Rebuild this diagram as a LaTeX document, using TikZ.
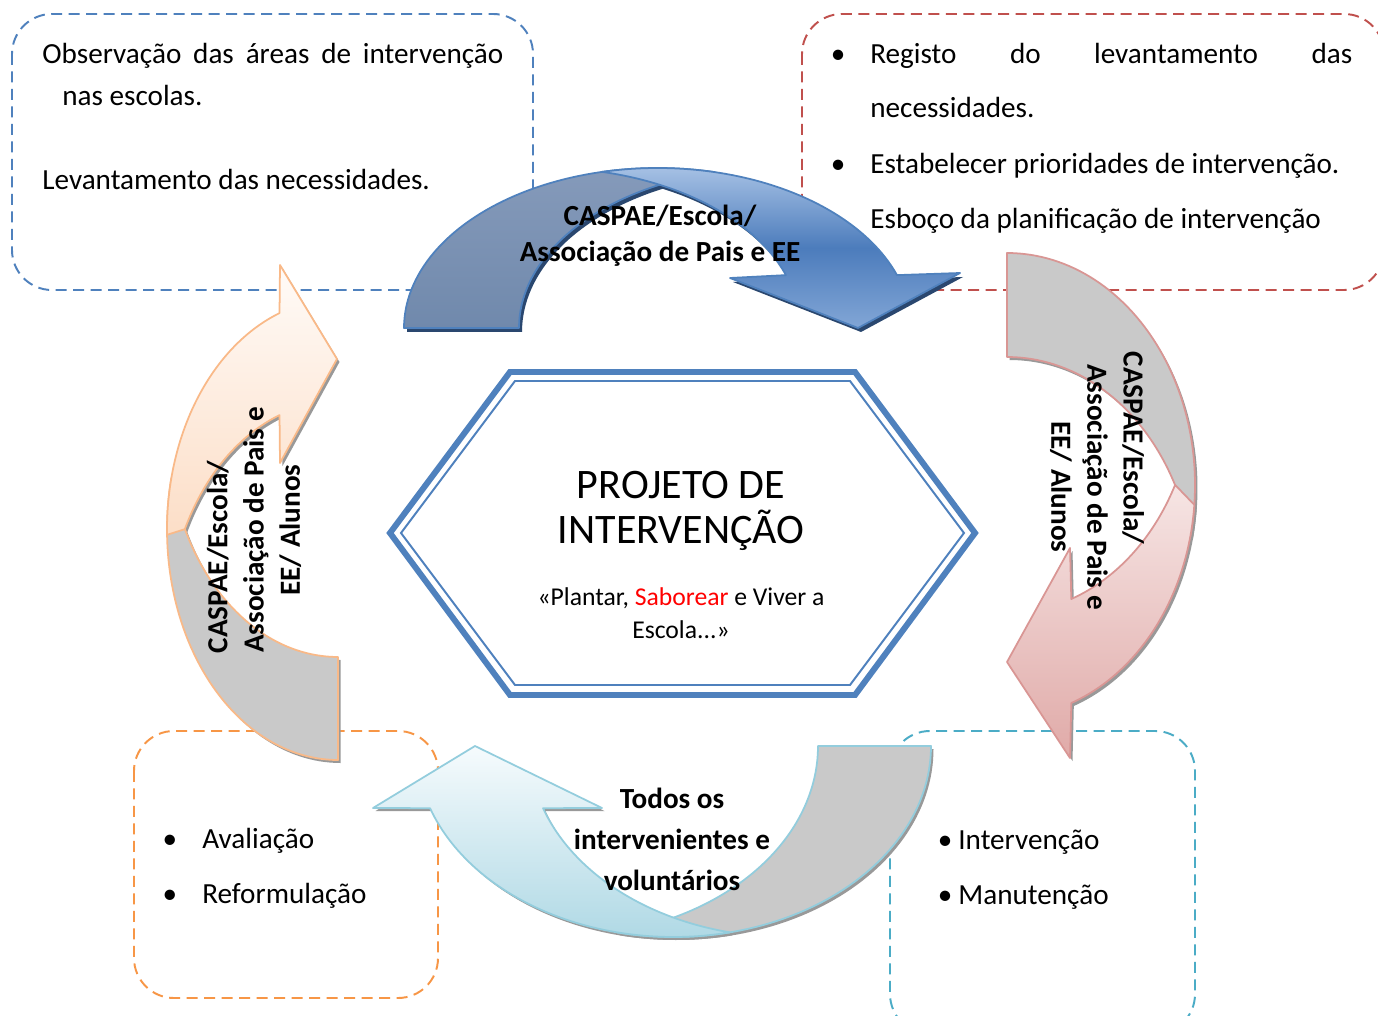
\documentclass[tikz,border=0pt]{standalone}
\usepackage{fontspec}
\setmainfont{Carlito}
\definecolor{bluebox}{HTML}{4F81BD}
\definecolor{redbox}{HTML}{C0504D}
\definecolor{orangebox}{HTML}{F79646}
\definecolor{tealbox}{HTML}{4BACC6}
\definecolor{grayfill}{HTML}{C9C9C9}
\definecolor{pinkedge}{HTML}{D99694}
\definecolor{peachedge}{HTML}{F9B988}
\definecolor{aquaedge}{HTML}{93CDDD}
\definecolor{navyshadow}{HTML}{2A476F}
\definecolor{hexblue}{HTML}{4F81BD}

% top arrow: one outer ellipse, two inner ellipses
\newcommand{\pathTB}{plot[domain=180:76.9,samples=60] ({657.6+253.6*cos(\x)},{328-160*sin(\x)}) -- plot[domain=103.1:180,samples=60] ({772.6+253.6*cos(\x)},{328-160*sin(\x)}) -- cycle}
\newcommand{\pathTF}{plot[domain=102.6:19.3,samples=60] ({657.6+253.6*cos(\x)},{328-160*sin(\x)}) -- (960,273) -- (858,328) -- (730,278) -- plot[domain=19.3:77.4,samples=60] ({546.6+253.6*cos(\x)},{328-160*sin(\x)}) -- cycle}
% right arrow
\newcommand{\pathRB}{plot[domain=-90:12.95,samples=60] ({1007+188*cos(\x)},{485+232*sin(\x)}) -- plot[domain=-12.95:-90,samples=60] ({1007+188*cos(\x)},{589+232*sin(\x)}) -- cycle}
\newcommand{\pathRF}{plot[domain=4.9:70,samples=60] ({1007+188*cos(\x)},{485+232*sin(\x)}) -- (1070,758) -- (1007,662) -- (1070,548) -- plot[domain=70:26.6,samples=60] ({1007+188*cos(\x)},{381+232*sin(\x)}) -- cycle}
% left arrow
\newcommand{\pathLB}{plot[domain=90:192.9,samples=60] ({338+171*cos(\x)},{529.6+230.4*sin(\x)}) -- plot[domain=167.1:90,samples=60] ({338+171*cos(\x)},{426.6+230.4*sin(\x)}) -- cycle}
\newcommand{\pathLF}{plot[domain=178.7:250,samples=60] ({338+171*cos(\x)},{529.6+230.4*sin(\x)}) -- (280,265) -- (337,359) -- (280,463) -- plot[domain=250:206.4,samples=60] ({338+171*cos(\x)},{631.6+230.4*sin(\x)}) -- cycle}
% bottom arrow
\newcommand{\pathBB}{plot[domain=0:102.7,samples=60] ({673.5+257.5*cos(\x)},{746+191*sin(\x)}) -- plot[domain=77.3:0,samples=60] ({560.5+257.5*cos(\x)},{746+191*sin(\x)}) -- cycle}
\newcommand{\pathBF}{plot[domain=77.3:161,samples=60] ({673.5+257.5*cos(\x)},{746+191*sin(\x)}) -- (373,808) -- (475,746) -- (602,808) -- plot[domain=161:102.7,samples=60] ({786.5+257.5*cos(\x)},{746+191*sin(\x)}) -- cycle}

\begin{document}
\begin{tikzpicture}[x=0.02cm,y=-0.02cm,
  dashbox/.style={dash pattern=on 0.22cm off 0.13cm, line width=1.1pt, rounded corners=0.8cm},
  body/.style={font=\fontsize{16.6}{24}\selectfont, inner sep=0pt},
  lbl/.style={font=\fontsize{16.6}{20.6}\selectfont\bfseries, align=center, inner sep=0pt},
  edge/.style={line width=1pt, line join=round},
  shade1/.style={fill=black!40, shift={(2.5,3)}},
  shade2/.style={fill=navyshadow, shift={(3,4)}}]
\useasboundingbox (0,0) rectangle (1378,1016);
\fill[white] (0,0) rectangle (1378,1016);

% dashed boxes
\draw[dashbox, bluebox] (12,14) rectangle (533,290);
\draw[dashbox, redbox] (802,14) rectangle (1384,290);
\draw[dashbox, orangebox] (134,731) rectangle (438,998);
\draw[dashbox, tealbox] (890,731) rectangle (1195,1034);

% top arrow
\fill[shade2] \pathTB;
\fill[shade2] \pathTF;
\path[edge, draw=bluebox, top color={rgb,255:red,133;green,154;blue,186}, bottom color={rgb,255:red,112;green,137;blue,172}] \pathTB;
\path[edge, draw=bluebox, top color={rgb,255:red,165;green,192;blue,228}, bottom color={rgb,255:red,130;green,166;blue,214}, middle color={rgb,255:red,76;green,124;blue,188}] \pathTF;

% right arrow
\fill[shade1] \pathRB;
\fill[shade1] \pathRF;
\path[edge, draw=pinkedge, fill=grayfill] \pathRB;
\path[edge, draw=pinkedge, top color={rgb,255:red,246;green,229;blue,228}, bottom color={rgb,255:red,224;green,170;blue,168}] \pathRF;

% bottom arrow
\fill[shade1] \pathBB;
\fill[shade1] \pathBF;
\path[edge, draw=aquaedge, fill=grayfill] \pathBB;
\path[edge, draw=aquaedge, top color={rgb,255:red,246;green,251;blue,253}, bottom color={rgb,255:red,176;green,217;blue,229}] \pathBF;

% left arrow
\fill[shade1] \pathLB;
\fill[shade1] \pathLF;
\path[edge, draw=peachedge, fill=grayfill] \pathLB;
\path[edge, draw=peachedge, top color={rgb,255:red,255;green,251;blue,248}, bottom color={rgb,255:red,252;green,222;blue,199}] \pathLF;

% hexagon
\draw[hexblue, line width=3.4pt, fill=white, line join=miter] (390,533) -- (510,372) -- (855,372) -- (975,533) -- (855,695) -- (510,695) -- cycle;
\draw[hexblue, line width=1.1pt, line join=miter] (401,533) -- (515,381) -- (850,381) -- (964,533) -- (850,685) -- (515,685) -- cycle;

\node[font=\fontsize{23.9}{25.6}\selectfont, align=center, inner sep=0pt] (title) at (681,511) {PROJETO DE\\INTERVENÇÃO};
\node[font=\fontsize{14.6}{18.8}\selectfont, align=center, inner sep=0pt] (subtitle) at (681,613) {«Plantar, \textcolor{red}{Saborear} e Viver a\\Escola...»};

% top-left box text
\node[body, anchor=base west] (tl1) at (42,64) {\makebox[9.22cm][s]{Observação das áreas de intervenção}};
\node[body, anchor=base west] (tl2) at (62,106) {nas escolas.};
\node[body, anchor=base west] (tl3) at (42,190) {Levantamento das necessidades.};

% top-right box text
\node[body, anchor=base] (trb1) at (838,64) {•};
\node[body, anchor=base west] (tr1) at (870,64) {\makebox[9.64cm][s]{Registo do levantamento das}};
\node[body, anchor=base west] (tr2) at (870,118) {necessidades.};
\node[body, anchor=base] (trb2) at (838,174) {•};
\node[body, anchor=base west] (tr3) at (870,174) {Estabelecer prioridades de intervenção.};
\node[body, anchor=base west] (tr4) at (870,229) {Esboço da planificação de intervenção};

% bottom-left box text
\node[body, anchor=base] (blb1) at (170,848) {•};
\node[body, anchor=base west] (bl1) at (202,848) {Avaliação};
\node[body, anchor=base] (blb2) at (170,903) {•};
\node[body, anchor=base west] (bl2) at (202,903) {Reformulação};

% bottom-right box text
\node[body, anchor=base] (brb1) at (945,849) {•};
\node[body, anchor=base west] (br1) at (958,849) {Intervenção};
\node[body, anchor=base] (brb2) at (945,904) {•};
\node[body, anchor=base west] (br2) at (958,904) {Manutenção};

% arrow labels
\node[lbl] (toplbl) at (660,236) {CASPAE/Escola/\\Associação de Pais e EE};
\node[lbl, font=\fontsize{16.6}{23.3}\selectfont\bfseries] (botlbl) at (672,839) {Todos os\\intervenientes e\\voluntários};
\node[lbl, rotate=-90] (rightlbl) at (1097,487) {CASPAE/Escola/\hspace*{1.56cm}\\Associação de Pais e\\EE/ Alunos};
\node[lbl, rotate=90] (leftlbl) at (254,530) {CASPAE/Escola/\hspace*{1.08cm}\\Associação de Pais e\\EE/ Alunos};
\end{tikzpicture}
\end{document}
